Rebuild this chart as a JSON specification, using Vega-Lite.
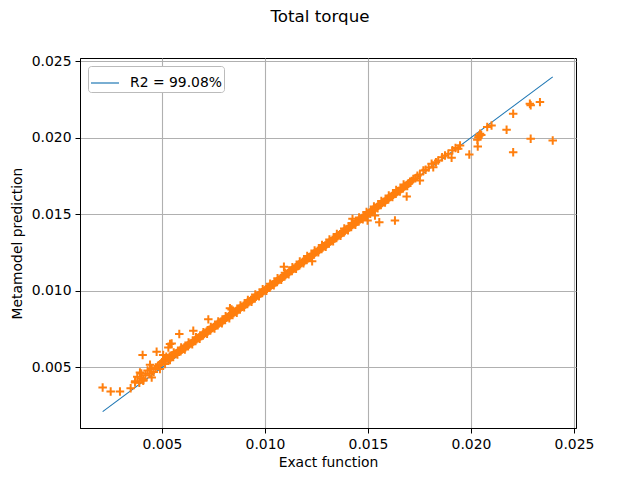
{
  "$schema": "https://vega.github.io/schema/vega-lite/v6.json",
  "width": 496,
  "height": 370,
  "autosize": {"type": "none"},
  "padding": {"left": 80, "top": 58, "right": 64, "bottom": 52},
  "title": {"text": "Total torque", "fontSize": 16.7, "fontWeight": "normal", "font": "DejaVu Sans", "color": "black", "offset": 28, "dx": -8},
  "config": {
    "font": "DejaVu Sans",
    "view": {"stroke": "black", "strokeWidth": 1},
    "axis": {"domainColor": "black", "domainWidth": 1, "tickColor": "black", "tickSize": 5, "tickWidth": 1, "labelFontSize": 13.9, "labelColor": "black", "labelFont": "DejaVu Sans", "titleFont": "DejaVu Sans", "titleFontSize": 13.9, "titleFontWeight": "normal", "titleColor": "black", "gridColor": "#b0b0b0", "gridWidth": 1.1, "labelPadding": 4, "titlePadding": 5}
  },
  "datasets": {
    "ln": [{"x": 0.00212, "y": 0.00212, "s": "R2 = 99.08%"}, {"x": 0.02397, "y": 0.02397, "s": "R2 = 99.08%"}],
    "pts": [
      {"x":0.00212,"y":0.00369},{"x":0.00251,"y":0.00343},{"x":0.00296,"y":0.00343},{"x":0.00348,"y":0.00365},
      {"x":0.00369,"y":0.00402},{"x":0.0037,"y":0.0041},{"x":0.0038,"y":0.0044},{"x":0.0039,"y":0.0040},{"x":0.00393,"y":0.00467},{"x":0.0040,"y":0.0046},{"x":0.0040,"y":0.0043},{"x":0.00409,"y":0.00413},{"x":0.0041,"y":0.0042},{"x":0.0042,"y":0.0045},{"x":0.0043,"y":0.0048},{"x":0.0044,"y":0.0046},{"x":0.0045,"y":0.00435},{"x":0.0045,"y":0.0049},{"x":0.0046,"y":0.0047},{"x":0.0047,"y":0.0050},{"x":0.0048,"y":0.0051},{"x":0.0049,"y":0.0049},{"x":0.0049,"y":0.0052},{"x":0.00515,"y":0.00522},
      {"x":0.00406,"y":0.00581},{"x":0.00442,"y":0.00518},{"x":0.00474,"y":0.00603},{"x":0.00506,"y":0.00581},{"x":0.00531,"y":0.00631},{"x":0.00539,"y":0.00653},{"x":0.00547,"y":0.00657},{"x":0.00584,"y":0.00718},{"x":0.00652,"y":0.0074},{"x":0.00725,"y":0.00814},{"x":0.0083,"y":0.00886},{"x":0.00838,"y":0.00878},
      {"x":0.01092,"y":0.01158},{"x":0.01229,"y":0.01193},{"x":0.01425,"y":0.0147},{"x":0.01498,"y":0.01459},{"x":0.01534,"y":0.01492},{"x":0.01555,"y":0.01448},{"x":0.01631,"y":0.01459},{"x":0.01688,"y":0.01616},
      {"x":0.00500,"y":0.00535},{"x":0.00506,"y":0.00541},{"x":0.00512,"y":0.00549},{"x":0.00518,"y":0.00547},{"x":0.00524,"y":0.00560},{"x":0.00530,"y":0.00558},{"x":0.00536,"y":0.00570},{"x":0.00542,"y":0.00566},{"x":0.00548,"y":0.00578},{"x":0.00554,"y":0.00580},{"x":0.00560,"y":0.00585},{"x":0.00566,"y":0.00592},{"x":0.00572,"y":0.00594},{"x":0.00578,"y":0.00604},{"x":0.00584,"y":0.00603},{"x":0.00590,"y":0.00614},{"x":0.00596,"y":0.00616},{"x":0.00602,"y":0.00622},{"x":0.00608,"y":0.00630},{"x":0.00614,"y":0.00632},{"x":0.00620,"y":0.00641},{"x":0.00626,"y":0.00644},{"x":0.00632,"y":0.00650},{"x":0.00638,"y":0.00657},{"x":0.00644,"y":0.00660},{"x":0.00650,"y":0.00669},{"x":0.00656,"y":0.00672},{"x":0.00662,"y":0.00680},{"x":0.00668,"y":0.00684},{"x":0.00674,"y":0.00692},{"x":0.00680,"y":0.00695},{"x":0.00686,"y":0.00704},{"x":0.00692,"y":0.00706},{"x":0.00698,"y":0.00715},{"x":0.00704,"y":0.00719},{"x":0.00710,"y":0.00725},{"x":0.00716,"y":0.00733},{"x":0.00722,"y":0.00735},{"x":0.00728,"y":0.00744},{"x":0.00734,"y":0.00747},{"x":0.00740,"y":0.00754},{"x":0.00746,"y":0.00760},{"x":0.00752,"y":0.00764},{"x":0.00758,"y":0.00772},{"x":0.00764,"y":0.00775},{"x":0.00770,"y":0.00784},{"x":0.00776,"y":0.00787},{"x":0.00782,"y":0.00794},{"x":0.00788,"y":0.00800},{"x":0.00794,"y":0.00804},{"x":0.00800,"y":0.00813},{"x":0.00806,"y":0.00815},{"x":0.00812,"y":0.00824},{"x":0.00818,"y":0.00828},{"x":0.00824,"y":0.00834},{"x":0.00830,"y":0.00841},{"x":0.00836,"y":0.00844},{"x":0.00842,"y":0.00853},{"x":0.00848,"y":0.00856},{"x":0.00854,"y":0.00863},{"x":0.00860,"y":0.00869},{"x":0.00866,"y":0.00873},{"x":0.00872,"y":0.00881},{"x":0.00878,"y":0.00884},{"x":0.00884,"y":0.00893},{"x":0.00890,"y":0.00897},{"x":0.00896,"y":0.00903},{"x":0.00902,"y":0.00910},{"x":0.00908,"y":0.00914},{"x":0.00914,"y":0.00923},{"x":0.00920,"y":0.00926},{"x":0.00926,"y":0.00933},{"x":0.00932,"y":0.00940},{"x":0.00938,"y":0.00943},{"x":0.00944,"y":0.00952},{"x":0.00950,"y":0.00955},{"x":0.00956,"y":0.00962},{"x":0.00962,"y":0.00969},{"x":0.00968,"y":0.00972},{"x":0.00974,"y":0.00981},{"x":0.00980,"y":0.00984},{"x":0.00986,"y":0.00991},{"x":0.00992,"y":0.00998},{"x":0.00998,"y":0.01002},
      {"x":0.01004,"y":0.01011},{"x":0.01010,"y":0.01014},{"x":0.01016,"y":0.01022},{"x":0.01022,"y":0.01027},{"x":0.01028,"y":0.01032},{"x":0.01034,"y":0.01040},{"x":0.01040,"y":0.01044},{"x":0.01046,"y":0.01052},{"x":0.01052,"y":0.01057},{"x":0.01058,"y":0.01062},{"x":0.01064,"y":0.01070},{"x":0.01070,"y":0.01074},{"x":0.01076,"y":0.01083},{"x":0.01082,"y":0.01086},{"x":0.01088,"y":0.01093},{"x":0.01094,"y":0.01100},{"x":0.01100,"y":0.01104},{"x":0.01106,"y":0.01112},{"x":0.01112,"y":0.01116},{"x":0.01118,"y":0.01123},{"x":0.01124,"y":0.01130},{"x":0.01130,"y":0.01134},{"x":0.01136,"y":0.01142},{"x":0.01142,"y":0.01146},{"x":0.01148,"y":0.01154},{"x":0.01154,"y":0.01160},{"x":0.01160,"y":0.01163},{"x":0.01166,"y":0.01172},{"x":0.01172,"y":0.01175},{"x":0.01178,"y":0.01183},{"x":0.01184,"y":0.01190},{"x":0.01190,"y":0.01193},{"x":0.01196,"y":0.01202},{"x":0.01202,"y":0.01206},{"x":0.01208,"y":0.01213},{"x":0.01214,"y":0.01220},{"x":0.01220,"y":0.01223},{"x":0.01226,"y":0.01232},{"x":0.01232,"y":0.01236},{"x":0.01238,"y":0.01243},{"x":0.01244,"y":0.01250},{"x":0.01250,"y":0.01253},{"x":0.01256,"y":0.01262},{"x":0.01262,"y":0.01266},{"x":0.01268,"y":0.01273},{"x":0.01274,"y":0.01280},{"x":0.01280,"y":0.01283},{"x":0.01286,"y":0.01292},{"x":0.01292,"y":0.01296},{"x":0.01298,"y":0.01303},{"x":0.01304,"y":0.01310},{"x":0.01310,"y":0.01313},{"x":0.01316,"y":0.01322},{"x":0.01322,"y":0.01326},{"x":0.01328,"y":0.01333},{"x":0.01334,"y":0.01340},{"x":0.01340,"y":0.01343},{"x":0.01346,"y":0.01352},{"x":0.01352,"y":0.01356},{"x":0.01358,"y":0.01363},{"x":0.01364,"y":0.01370},{"x":0.01370,"y":0.01374},{"x":0.01376,"y":0.01381},{"x":0.01382,"y":0.01388},{"x":0.01388,"y":0.01391},{"x":0.01394,"y":0.01400},{"x":0.01400,"y":0.01404},{"x":0.01406,"y":0.01412},{"x":0.01412,"y":0.01417},{"x":0.01418,"y":0.01421},{"x":0.01424,"y":0.01430},{"x":0.01430,"y":0.01435},{"x":0.01436,"y":0.01439},{"x":0.01442,"y":0.01448},{"x":0.01448,"y":0.01453},{"x":0.01454,"y":0.01457},{"x":0.01460,"y":0.01466},{"x":0.01466,"y":0.01471},{"x":0.01472,"y":0.01475},{"x":0.01478,"y":0.01484},{"x":0.01484,"y":0.01489},{"x":0.01490,"y":0.01493},{"x":0.01496,"y":0.01502},
      {"x":0.01502,"y":0.01507},{"x":0.01508,"y":0.01511},{"x":0.01514,"y":0.01520},{"x":0.01520,"y":0.01525},{"x":0.01526,"y":0.01529},{"x":0.01532,"y":0.01538},{"x":0.01538,"y":0.01543},{"x":0.01544,"y":0.01547},{"x":0.01550,"y":0.01556},{"x":0.01556,"y":0.01561},{"x":0.01562,"y":0.01565},{"x":0.01568,"y":0.01574},{"x":0.01574,"y":0.01579},{"x":0.01580,"y":0.01583},{"x":0.01586,"y":0.01592},{"x":0.01592,"y":0.01597},{"x":0.01598,"y":0.01601},{"x":0.01604,"y":0.01610},{"x":0.01610,"y":0.01615},{"x":0.01616,"y":0.01619},{"x":0.01622,"y":0.01628},{"x":0.01628,"y":0.01633},{"x":0.01634,"y":0.01636},{"x":0.01640,"y":0.01646},{"x":0.01646,"y":0.01651},{"x":0.01652,"y":0.01654},{"x":0.01658,"y":0.01664},{"x":0.01664,"y":0.01668},{"x":0.01670,"y":0.01672},{"x":0.01676,"y":0.01682},{"x":0.01682,"y":0.01685},{"x":0.01688,"y":0.01690},{"x":0.01694,"y":0.01699},{"x":0.01700,"y":0.01703},
      {"x":0.00521,"y":0.00570},{"x":0.00539,"y":0.00548},{"x":0.00557,"y":0.00598},{"x":0.00575,"y":0.00585},{"x":0.00593,"y":0.00630},{"x":0.00611,"y":0.00618},{"x":0.00629,"y":0.00663},{"x":0.00647,"y":0.00652},{"x":0.00665,"y":0.00698},{"x":0.00683,"y":0.00688},{"x":0.00701,"y":0.00730},{"x":0.00719,"y":0.00720},{"x":0.00737,"y":0.00765},{"x":0.00755,"y":0.00755},{"x":0.00773,"y":0.00800},{"x":0.00791,"y":0.00788},{"x":0.00809,"y":0.00835},{"x":0.00827,"y":0.00822},{"x":0.00845,"y":0.00870},{"x":0.00863,"y":0.00858},{"x":0.00881,"y":0.00904},{"x":0.00899,"y":0.00893},{"x":0.00917,"y":0.00940},{"x":0.00935,"y":0.00929},{"x":0.00953,"y":0.00976},{"x":0.00971,"y":0.00965},{"x":0.00989,"y":0.01011},{"x":0.01007,"y":0.01000},{"x":0.01025,"y":0.01047},{"x":0.01043,"y":0.01036},{"x":0.01061,"y":0.01083},{"x":0.01079,"y":0.01072},{"x":0.01097,"y":0.01119},{"x":0.01115,"y":0.01108},{"x":0.01133,"y":0.01155},{"x":0.01151,"y":0.01144},{"x":0.01169,"y":0.01191},{"x":0.01187,"y":0.01180},{"x":0.01205,"y":0.01227},{"x":0.01223,"y":0.01216},{"x":0.01241,"y":0.01263},{"x":0.01259,"y":0.01252},{"x":0.01277,"y":0.01299},{"x":0.01295,"y":0.01288},{"x":0.01313,"y":0.01335},{"x":0.01331,"y":0.01324},{"x":0.01349,"y":0.01371},{"x":0.01367,"y":0.01360},{"x":0.01385,"y":0.01407},{"x":0.01403,"y":0.01396},{"x":0.01421,"y":0.01443},{"x":0.01439,"y":0.01432},{"x":0.01457,"y":0.01479},{"x":0.01475,"y":0.01468},{"x":0.01493,"y":0.01515},{"x":0.01511,"y":0.01504},{"x":0.01529,"y":0.01551},{"x":0.01547,"y":0.01540},{"x":0.01565,"y":0.01587},{"x":0.01583,"y":0.01576},{"x":0.01601,"y":0.01623},{"x":0.01619,"y":0.01612},{"x":0.01637,"y":0.01659},{"x":0.01655,"y":0.01648},{"x":0.01673,"y":0.01695},{"x":0.01691,"y":0.01684},
      {"x":0.01704,"y":0.01712},{"x":0.01712,"y":0.01718},{"x":0.01720,"y":0.01730},{"x":0.01730,"y":0.01735},{"x":0.01740,"y":0.01752},{"x":0.01752,"y":0.0172},{"x":0.01752,"y":0.01760},{"x":0.01769,"y":0.01786},{"x":0.01780,"y":0.01790},{"x":0.01795,"y":0.01805},{"x":0.01809,"y":0.01829},{"x":0.01817,"y":0.01807},{"x":0.01830,"y":0.01840},{"x":0.01841,"y":0.01851},{"x":0.01860,"y":0.01872},{"x":0.01874,"y":0.01884},{"x":0.01890,"y":0.01895},{"x":0.01906,"y":0.01869},{"x":0.01910,"y":0.01918},{"x":0.01925,"y":0.01932},{"x":0.01938,"y":0.01927},{"x":0.01947,"y":0.01949},{"x":0.01992,"y":0.0189},{"x":0.02031,"y":0.01986},{"x":0.02033,"y":0.01943},{"x":0.02036,"y":0.02003},{"x":0.02040,"y":0.02012},{"x":0.02044,"y":0.02025},{"x":0.02050,"y":0.02018},{"x":0.02079,"y":0.02069},{"x":0.02100,"y":0.0208},{"x":0.02173,"y":0.02052},{"x":0.02205,"y":0.02156},{"x":0.02205,"y":0.01905},{"x":0.02286,"y":0.02222},{"x":0.02290,"y":0.02212},{"x":0.02335,"y":0.02232},{"x":0.02290,"y":0.01993},{"x":0.02397,"y":0.01982}
    ]
  },
  "layer": [
    {
      "data": {"name": "ln"},
      "mark": {"type": "line", "strokeWidth": 1.1},
      "encoding": {
        "x": {"field": "x", "type": "quantitative", "scale": {"domain": [0.00102, 0.0251], "nice": false, "zero": false}, "axis": {"values": [0.005, 0.01, 0.015, 0.02, 0.025], "format": ".3f", "title": "Exact function"}},
        "y": {"field": "y", "type": "quantitative", "scale": {"domain": [0.00105, 0.0252], "nice": false, "zero": false}, "axis": {"values": [0.005, 0.01, 0.015, 0.02, 0.025], "format": ".3f", "title": "Metamodel prediction", "titlePadding": 7}},
        "color": {"field": "s", "type": "nominal", "scale": {"range": ["#1f77b4"]}, "legend": {"orient": "top-left", "title": null, "offset": 8, "symbolType": "stroke", "symbolStrokeWidth": 1.2, "symbolSize": 784, "labelFontSize": 13.9, "labelColor": "black", "labelFont": "DejaVu Sans", "strokeColor": "#bbbbbb", "fillColor": "white", "padding": 2, "cornerRadius": 3, "labelOffset": 10}}
      }
    },
    {
      "data": {"name": "pts"},
      "mark": {"type": "point", "shape": "M-1,0H1M0,-1V1", "filled": false, "stroke": "#ff7f0e", "strokeWidth": 2, "size": 72, "opacity": 1},
      "encoding": {
        "x": {"field": "x", "type": "quantitative"},
        "y": {"field": "y", "type": "quantitative"}
      }
    }
  ]
}
